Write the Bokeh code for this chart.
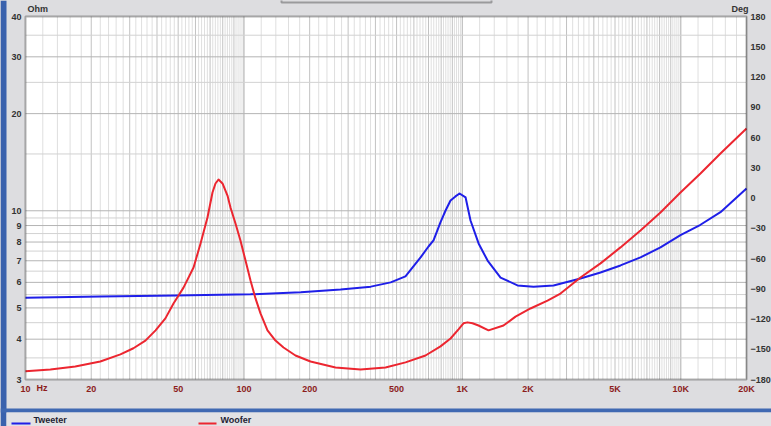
import numpy as np
from bokeh.plotting import figure
from bokeh.models import (FixedTicker, LinearAxis, Range1d, Label, BoxAnnotation,
                          LinearScale)
from bokeh.embed import file_html
from bokeh.resources import INLINE

# ---------------- data ----------------
tweeter_f = [10, 22.0, 48.6, 107.2, 182, 277, 381, 470, 549, 644, 700, 738, 794,
             838, 883, 930, 971, 1035, 1090, 1187, 1305, 1496, 1789, 2118, 2616,
             3475, 4291, 5298, 6542, 8075, 9972, 12310, 15200, 20000]
tweeter_z = [5.38, 5.42, 5.46, 5.51, 5.59, 5.70, 5.82, 6.00, 6.26, 7.17, 7.75,
             8.09, 9.20, 10.02, 10.76, 11.08, 11.31, 11.0, 9.33, 7.92, 7.01,
             6.21, 5.87, 5.82, 5.87, 6.17, 6.44, 6.77, 7.17, 7.70, 8.40, 9.05,
             9.90, 11.72]

woofer_f = [10, 13.0, 16.9, 22.0, 27.2, 31.2, 35.4, 39.4, 43.7, 47.6, 52.9, 58.8,
            63.3, 68.1, 71.8, 74.1, 76.5, 79.8, 84.1, 86.8, 91.5, 96.4, 101.7,
            107.2, 113.0, 119.1, 128.2, 139.5, 151.8, 172.2, 201.8, 262.6, 341.8,
            444.8, 549.4, 678.2, 794.3, 883, 960.3, 1012, 1056, 1113, 1186, 1318,
            1543, 1752, 2051, 2455, 2814, 3475, 4291, 5298, 6542, 8075, 9972,
            12310, 15200, 20000]
woofer_z = [3.18, 3.22, 3.29, 3.41, 3.59, 3.75, 3.96, 4.26, 4.64, 5.16, 5.78, 6.67,
            7.92, 9.53, 11.39, 12.15, 12.5, 12.15, 11.15, 10.24, 9.13, 8.09, 7.01,
            6.08, 5.35, 4.81, 4.26, 3.96, 3.77, 3.56, 3.41, 3.27, 3.22, 3.27, 3.39,
            3.56, 3.80, 4.02, 4.29, 4.48, 4.51, 4.48, 4.41, 4.26, 4.41, 4.70, 4.98,
            5.27, 5.54, 6.21, 6.87, 7.70, 8.69, 9.88, 11.39, 13.05, 15.05, 17.99]

x_ticks = [10, 20, 50, 100, 200, 500, 1000, 2000, 5000, 10000, 20000]
x_tick_labels = ["10", "20", "50", "100", "200", "500", "1K", "2K", "5K", "10K", "20K"]
y_ticks = [3, 4, 5, 6, 7, 8, 9, 10, 20, 30, 40]
y_tick_labels = ["3", "4", "5", "6", "7", "8", "9", "10", "20", "30", "40"]
deg_ticks = list(range(-180, 181, 30))
series_names = ["Tweeter", "Woofer"]

X_MIN, X_MAX = 10, 20000
Y_MIN, Y_MAX = 3, 40
DEG_MIN, DEG_MAX = -180, 180

# ---------------- layout / styling ----------------
W, H = 771, 426
FL, FR, FT, FB = 25, 746, 16, 379  # plot-area edges in pixels
BG = "#dddde0"
BLUE = "#1f1fe8"
RED = "#ec2630"
FONT = "Liberation Sans"
TXT = "#333333"
XLAB = "#8c1c1c"

LX0, LX1 = np.log10(X_MIN), np.log10(X_MAX)
LY0, LY1 = np.log10(Y_MIN), np.log10(Y_MAX)


def xd(px):
    return 10 ** (LX0 + (px - FL) * (LX1 - LX0) / (FR - FL))


def yd(py):
    return 10 ** (LY1 - (py - FT) * (LY1 - LY0) / (FB - FT))


def dd(py):
    return DEG_MAX - (py - FT) * (DEG_MAX - DEG_MIN) / (FB - FT)


p = figure(width=W, height=H, x_axis_type="log", y_axis_type="log",
           x_range=Range1d(xd(0), xd(W)), y_range=Range1d(yd(H), yd(0)),
           output_backend="svg", toolbar_location=None, min_border=0)
p.background_fill_color = BG
p.border_fill_color = BG
p.outline_line_color = None
p.grid.visible = False

p.extra_y_ranges = {"deg": Range1d(dd(H), dd(0))}
p.extra_y_scales = {"deg": LinearScale()}

# white plot area
p.add_layout(BoxAnnotation(left=X_MIN, right=X_MAX, bottom=Y_MIN, top=Y_MAX,
                           fill_color="white", fill_alpha=1, line_color=None,
                           level="underlay"))

# grid lines
decades = [10, 100, 1000, 10000]
x_major, x_minor = [], []
for d in decades:
    for k in range(10, 101, 2):
        v = d * k / 10.0
        if v > X_MAX or v <= X_MIN:
            continue
        (x_major if k % 10 == 0 else x_minor).append(v)
y_major = [4, 5, 6, 7, 8, 9, 10, 20, 30]
y_minor = [3.5, 4.5, 5.5, 6.5, 7.5, 8.5, 9.5, 15, 25, 35]

p.segment(x0=x_minor, x1=x_minor, y0=[Y_MIN] * len(x_minor), y1=[Y_MAX] * len(x_minor),
          line_color="#dfdfdf", line_width=1)
p.segment(x0=x_major, x1=x_major, y0=[Y_MIN] * len(x_major), y1=[Y_MAX] * len(x_major),
          line_color="#c2c2c2", line_width=1)
p.segment(x0=[X_MIN] * len(y_minor), x1=[X_MAX] * len(y_minor), y0=y_minor, y1=y_minor,
          line_color="#d2d2d2", line_width=1)
p.segment(x0=[X_MIN] * len(y_major), x1=[X_MAX] * len(y_major), y0=y_major, y1=y_major,
          line_color="#b4b4b4", line_width=1)

# curves
p.line(tweeter_f, tweeter_z, line_color=BLUE, line_width=2, line_join="round")
p.line(woofer_f, woofer_z, line_color=RED, line_width=2, line_join="round")

# plot-area border
p.add_layout(BoxAnnotation(left=X_MIN, right=X_MAX, bottom=Y_MIN, top=Y_MAX,
                           fill_alpha=0, line_color="black", line_width=2,
                           level="overlay"))

# axes (drawn at fixed locations on the plot-area edges)
xa = p.xaxis[0]
xa.fixed_location = Y_MIN
xa.ticker = FixedTicker(ticks=x_ticks)
xa.major_label_overrides = {t: l for t, l in zip(x_ticks, x_tick_labels)}
xa.major_label_text_color = XLAB
ya = p.yaxis[0]
ya.fixed_location = X_MIN
ya.ticker = FixedTicker(ticks=y_ticks)
ya.major_label_overrides = {t: l for t, l in zip(y_ticks, y_tick_labels)}
ya.major_label_text_color = TXT
ra = LinearAxis(y_range_name="deg", ticker=FixedTicker(ticks=deg_ticks),
                fixed_location=X_MAX)
ra.major_label_text_color = TXT
p.add_layout(ra, "right")

for ax in (xa, ya, ra):
    ax.axis_line_color = None
    ax.major_tick_in = 0
    ax.major_tick_out = 0
    ax.major_tick_line_color = None
    ax.minor_tick_line_color = None
    ax.major_label_text_font = FONT
    ax.major_label_text_font_style = "bold"
    ax.major_label_text_font_size = "9px"
    ax.major_label_standoff = 4


def lab(text, px, py, align="left", color=TXT, size="9px", baseline="middle"):
    p.add_layout(Label(x=xd(px), y=yd(py), text=text, text_align=align,
                       text_baseline=baseline, text_color=color,
                       text_font=FONT, text_font_style="bold",
                       text_font_size=size))


def box(x0, x1, y0, y1, color, **kw):
    p.add_layout(BoxAnnotation(left=xd(x0), right=xd(x1), top=yd(y0), bottom=yd(y1),
                               fill_color=color, fill_alpha=1, line_color=None, **kw))


lab("Ohm", 27, 8)
lab("Deg", 748, 8, align="right")
lab("Hz", 36, 387.5, color=XLAB)

# window decorations: left blue strip, bottom blue bar, legend panel, title box
box(0, 6, 0, H, "#3a62ad")
box(0, W, 408, 412, "#4069b2")
box(6, W, 412, H, "#e2e2e5")
p.add_layout(BoxAnnotation(left=xd(281), right=xd(491), top=yd(-20), bottom=yd(2),
                           fill_alpha=0, line_color="black", line_width=2))

# legend
box(11, 30, 422, 424, BLUE)
box(198, 216, 422, 424, RED)
lab(series_names[0], 33, 419.5, color="#222233", size="9px")
lab(series_names[1], 220, 419.5, color="#222233", size="9px")

html = file_html(p, INLINE, title="Impedance")
html = html.replace("</head>",
                    "<style>html,body{margin:0;padding:0;overflow:hidden;background:%s}</style></head>" % BG, 1)
open("out.html", "w").write(html)
